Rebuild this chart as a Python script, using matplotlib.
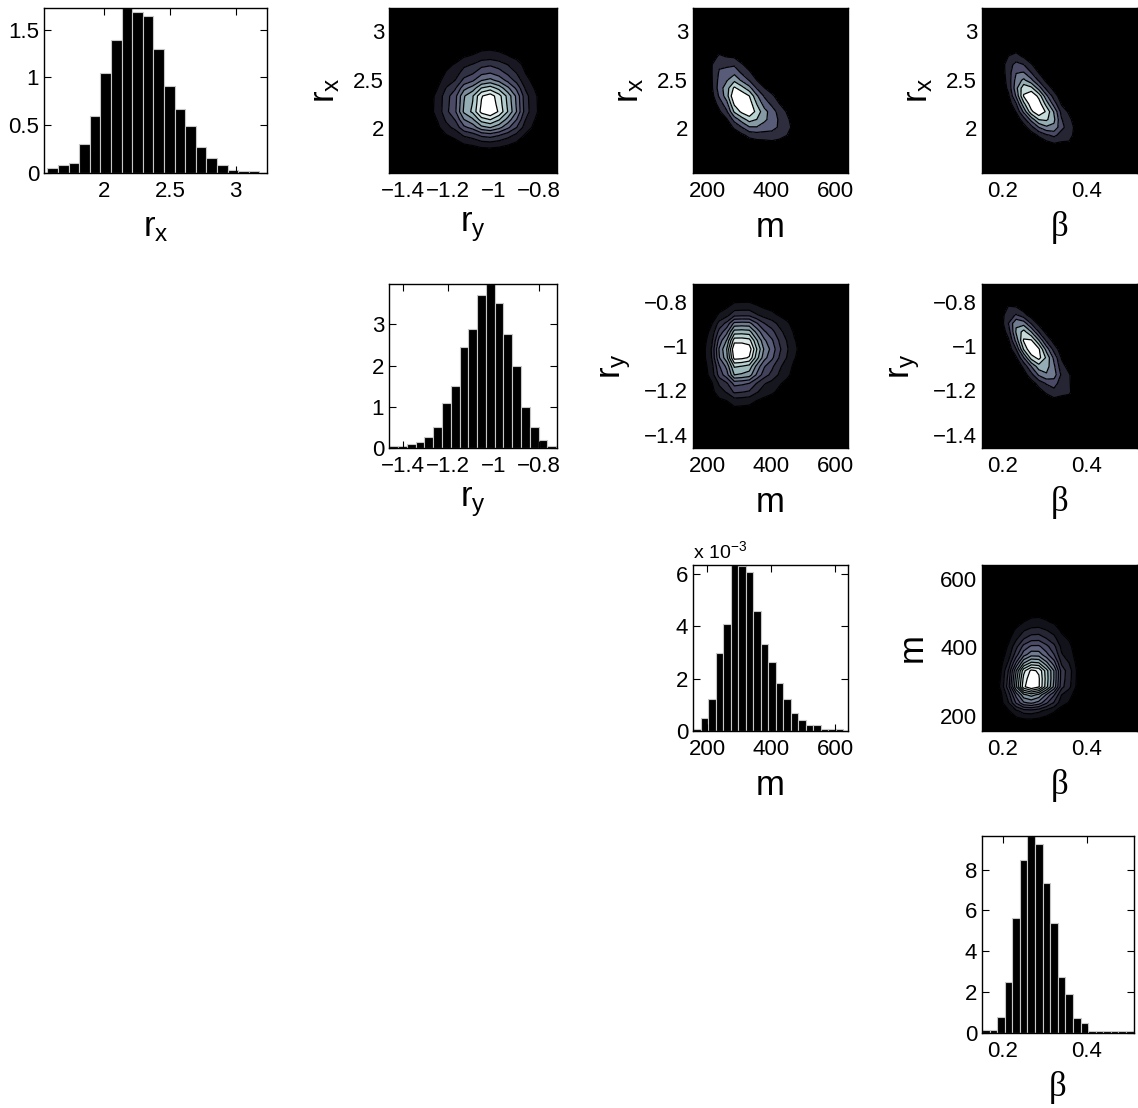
import numpy as np
import matplotlib
matplotlib.use('Agg')
import matplotlib.pyplot as plt
from matplotlib.ticker import FuncFormatter
from statistics import NormalDist

plt.rcParams['font.family'] = ['Liberation Sans', 'DejaVu Sans']
plt.rcParams['mathtext.fontset'] = 'custom'
plt.rcParams['mathtext.rm'] = 'Liberation Sans'
plt.rcParams['mathtext.it'] = 'Liberation Sans'
plt.rcParams['axes.linewidth'] = 1.0

W, H = 1138, 1108

# ----------------------------
# POSTERIOR SUMMARY
# ----------------------------
LABELS = [r'$r_x$', r'$r_y$', 'm', u'\u03b2']

# axis range of every parameter
RX_LIM = [1.54, 3.24]
RY_LIM = [-1.46, -0.72]
M_LIM = [155, 640]
BETA_LIM = [0.15, 0.52]

# tick values
RX_TICKS = [2, 2.5, 3]
RY_TICKS = [-1.4, -1.2, -1, -0.8]
M_TICKS = [200, 400, 600]
BETA_TICKS = [0.2, 0.4]

# marginal histograms: first bin edge, bin width, normalised counts
RX_EDGE0, RX_BINW = 1.566, 0.0808
RX_HIST = [0.052, 0.08, 0.10, 0.305, 0.60, 1.05, 1.39, 1.726, 1.68, 1.645,
           1.30, 0.913, 0.67, 0.49, 0.268, 0.156, 0.087, 0.028, 0.02, 0.02]
RY_EDGE0, RY_BINW = -1.459, 0.0387
RY_HIST = [0.04, 0.04, 0.10, 0.145, 0.26, 0.52, 1.09, 1.51, 2.46, 2.88,
           3.72, 3.976, 3.51, 2.77, 1.98, 1.0, 0.52, 0.20, 0.04]
M_EDGE0, M_BINW = 155, 23.5
M_HIST = [0.077e-3, 0.49e-3, 1.23e-3, 2.99e-3, 4.08e-3, 6.35e-3, 6.30e-3,
          6.09e-3, 4.58e-3, 3.33e-3, 2.65e-3, 1.83e-3, 1.23e-3, 0.67e-3,
          0.41e-3, 0.23e-3, 0.23e-3, 0.08e-3, 0.08e-3, 0.08e-3]
BETA_EDGE0, BETA_BINW = 0.15, 0.0181
BETA_HIST = [0.16, 0.16, 0.80, 2.52, 5.61, 8.49, 9.64, 9.23, 7.32, 5.37,
             2.73, 1.90, 0.72, 0.49, 0.08, 0.08, 0.08, 0.08, 0.08, 0.08]

RX_HIST_YTICKS = [0, 0.5, 1, 1.5]
RY_HIST_YTICKS = [0, 1, 2, 3]
M_HIST_YTICKS = [0, 2e-3, 4e-3, 6e-3]
BETA_HIST_YTICKS = [0, 2, 4, 6, 8]

# pairwise correlation (row param, col param) and contour count
PAIRS = [(0, 1), (0, 2), (0, 3), (1, 2), (1, 3), (2, 3)]
PAIR_RHO = [0.0, -0.62, -0.7, 0.05, -0.76, 0.1]
PAIR_NLEVELS = [9, 5, 6, 10, 6, 12]

LIMS = [RX_LIM, RY_LIM, M_LIM, BETA_LIM]
TICKS = [RX_TICKS, RY_TICKS, M_TICKS, BETA_TICKS]
EDGE0 = [RX_EDGE0, RY_EDGE0, M_EDGE0, BETA_EDGE0]
BINW = [RX_BINW, RY_BINW, M_BINW, BETA_BINW]
HISTS = [RX_HIST, RY_HIST, M_HIST, BETA_HIST]
HIST_YTICKS = [RX_HIST_YTICKS, RY_HIST_YTICKS, M_HIST_YTICKS, BETA_HIST_YTICKS]

# panel boxes in pixels
COL_X = [(44, 267), (389, 557), (693, 848), (982, 1137)]
ROW_Y = [(8, 173), (284, 448), (565, 731), (836, 1033)]

TICK_FS = 16
LABEL_FS = 25

fmt = FuncFormatter(lambda v, _: f'{v:g}'.replace('-', '\u2212'))
fmt_milli = FuncFormatter(lambda v, _: f'{v * 1e3:g}')


def px_axes(fig, left, top, right, bottom):
    return fig.add_axes([left / W, 1 - bottom / H, (right - left) / W, (bottom - top) / H])


def centers(i):
    return EDGE0[i] + BINW[i] * (np.arange(len(HISTS[i])) + 0.5)


def normal_scores(i):
    p = np.asarray(HISTS[i]) * BINW[i]
    p = p / p.sum()
    cdf = np.cumsum(p) - p / 2
    nd = NormalDist()
    return np.array([nd.inv_cdf(min(max(c, 1e-6), 1 - 1e-6)) for c in cdf])


def joint_density(iy, ix, rho):
    fx, fy = np.asarray(HISTS[ix]), np.asarray(HISTS[iy])
    zx, zy = normal_scores(ix), normal_scores(iy)
    ZX, ZY = np.meshgrid(zx, zy)
    cop = np.exp(-(rho ** 2 * (ZX ** 2 + ZY ** 2) - 2 * rho * ZX * ZY) / (2 * (1 - rho ** 2)))
    cop /= np.sqrt(1 - rho ** 2)
    J = np.outer(fy, fx) * cop
    # zero border out to the axis limits
    J = np.pad(J, 1)
    xg = np.concatenate([[LIMS[ix][0]], centers(ix), [LIMS[ix][1]]])
    yg = np.concatenate([[LIMS[iy][0]], centers(iy), [LIMS[iy][1]]])
    return xg, yg, J


def style_axes(ax):
    ax.tick_params(direction='in', top=True, right=True, length=5, width=0.8,
                   labelsize=TICK_FS)
    ax.tick_params(axis='x', pad=6)
    ax.tick_params(axis='y', pad=3.5)
    ax.xaxis.set_major_formatter(fmt)
    ax.yaxis.set_major_formatter(fmt)


fig = plt.figure(figsize=(W / 100, H / 100), dpi=100)

# ----------------------------
# DIAGONAL: MARGINAL HISTOGRAMS
# ----------------------------
for i in range(4):
    left, right = COL_X[i]
    top, bottom = ROW_Y[i]
    if i == 3:
        right = 1134
    ax = px_axes(fig, left, top, right, bottom)
    ax.bar(centers(i), HISTS[i], width=BINW[i], color='black',
           edgecolor=(0.78, 0.78, 0.78), linewidth=0.8)
    lo = LIMS[i][0]
    hi = LIMS[i][0] + (LIMS[i][1] - LIMS[i][0]) * (right - left) / (COL_X[i][1] - COL_X[i][0])
    ax.set_xlim(lo, hi)
    ax.set_ylim(0, max(HISTS[i]))
    ax.set_xticks(TICKS[i])
    ax.set_yticks(HIST_YTICKS[i])
    style_axes(ax)
    if i == 2:
        ax.yaxis.set_major_formatter(fmt_milli)
        ax.text(0.0, 1.02, r'x 10$^{\mathregular{-3}}$', transform=ax.transAxes,
                fontsize=14, ha='left', va='bottom')
    ax.set_xlabel(LABELS[i], fontsize=LABEL_FS, labelpad=6,
                  family='Liberation Serif' if i == 3 else None)

# ----------------------------
# OFF-DIAGONAL: JOINT CONTOURS
# ----------------------------
cmap = plt.get_cmap('bone')
for (iy, ix), rho, n in zip(PAIRS, PAIR_RHO, PAIR_NLEVELS):
    left, right = COL_X[ix]
    top, bottom = ROW_Y[iy]
    ax = px_axes(fig, left, top, right, bottom)
    ax.set_facecolor('black')
    xg, yg, J = joint_density(iy, ix, rho)
    zmax = J.max()
    line_levels = zmax * np.arange(1, n + 1) / (n + 1)
    fill_levels = np.concatenate([[-1e-12], line_levels, [zmax * 1.001]])
    colors = [cmap(v) for v in np.linspace(0, 1, n + 1)]
    ax.contourf(xg, yg, J, levels=fill_levels, colors=colors)
    ax.contour(xg, yg, J, levels=line_levels, colors='black', linewidths=0.9)
    ax.set_xlim(LIMS[ix])
    ax.set_ylim(LIMS[iy])
    ax.set_xticks(TICKS[ix])
    ax.set_yticks(TICKS[iy])
    style_axes(ax)
    ax.set_xlabel(LABELS[ix], fontsize=LABEL_FS, labelpad=6,
                  family='Liberation Serif' if ix == 3 else None)
    ax.set_ylabel(LABELS[iy], fontsize=LABEL_FS, labelpad=8)

fig.savefig('out.png', dpi=100)
